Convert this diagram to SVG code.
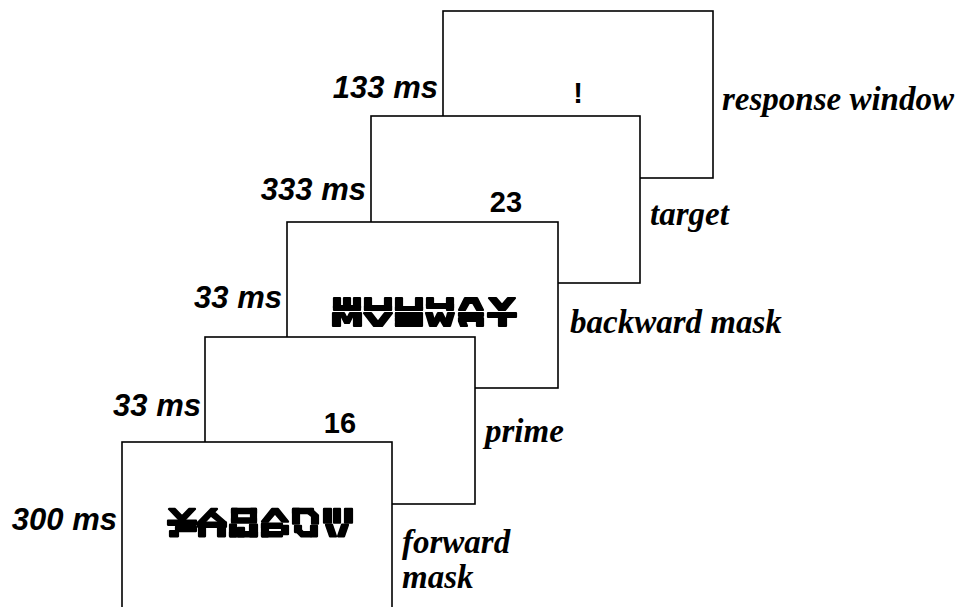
<svg xmlns="http://www.w3.org/2000/svg" width="969" height="607" viewBox="0 0 969 607">
<style>
.frame{fill:#fff;stroke:#000;stroke-width:1.6}
.dur{font-family:"Liberation Sans",Arial,sans-serif;font-weight:bold;font-style:italic;font-size:31px;text-anchor:end;fill:#000}
.stim{font-family:"Liberation Sans",Arial,sans-serif;font-weight:bold;font-size:29px;text-anchor:middle;fill:#000}
.name{font-family:"Liberation Serif","Times New Roman",serif;font-weight:bold;font-style:italic;font-size:33px;fill:#000}
.mask{fill:#000;stroke:#000;stroke-width:2.2;stroke-linejoin:round}
</style>
<rect width="969" height="607" fill="#fff"/>
<g id="response-window">
<rect class="frame" x="443" y="11" width="270" height="167"/>
<text class="stim" x="578" y="103">!</text>
<text class="dur" x="438" y="98">133 ms</text>
<text class="name" x="722" y="110">response window</text>
</g>
<g id="target">
<rect class="frame" x="371" y="116" width="269" height="167"/>
<text class="stim" x="506" y="212">23</text>
<text class="dur" x="366" y="200">333 ms</text>
<text class="name" x="650" y="225">target</text>
</g>
<g id="backward-mask">
<rect class="frame" x="287" y="222" width="271" height="166"/>
<g class="mask" transform="translate(333,298)">
<rect x="1" y="0" width="6" height="10"/><rect x="11" y="0" width="6" height="10"/><rect x="21" y="0" width="6" height="10"/><rect x="1" y="8" width="26" height="4"/>
<rect x="0" y="15" width="7" height="13"/><rect x="21" y="15" width="7" height="13"/><path d="M7,15 L11,15 L14,21 L17,15 L21,15 L16,25 L12,25 Z"/>
<rect x="32" y="0" width="6" height="12"/><rect x="52" y="0" width="6" height="12"/><rect x="32" y="8" width="26" height="4"/>
<path d="M31,15 L38,15 L45,24 L52,15 L59,15 L49,28 L41,28 Z"/>
<rect x="63" y="0" width="6" height="12"/><rect x="83" y="0" width="6" height="12"/><rect x="63" y="9" width="26" height="3"/>
<rect x="63" y="15" width="6" height="13"/><rect x="63" y="15" width="22" height="4"/><rect x="63" y="20" width="22" height="3"/><rect x="63" y="25" width="24" height="3"/><rect x="84" y="15" width="5" height="13"/>
<rect x="94" y="0" width="6" height="8"/><rect x="114" y="0" width="6" height="12"/><rect x="94" y="6" width="26" height="4"/>
<path d="M93,15 L99,15 L101,23 L105,15 L109,15 L113,23 L115,15 L121,15 L117,28 L111,28 L107,21 L103,28 L97,28 Z"/>
<path d="M132,0 L144,0 L150,12 L144,12 L140,5 L136,5 L132,12 L126,12 Z"/>
<rect x="126" y="15" width="24" height="3"/><rect x="126" y="20" width="24" height="3"/><path d="M126,23 L132,23 L134,28 L128,28 Z"/><rect x="144" y="23" width="6" height="5"/>
<path d="M156,0 L163,0 L169,7 L175,0 L182,0 L172,12 L166,12 Z"/>
<rect x="155" y="15" width="28" height="4"/><rect x="166" y="19" width="7" height="9"/>
</g>
<text class="dur" x="282" y="308">33 ms</text>
<text class="name" x="570" y="333">backward mask</text>
</g>
<g id="prime">
<rect class="frame" x="205" y="337" width="270" height="167"/>
<text class="stim" x="340" y="433">16</text>
<text class="dur" x="201" y="416">33 ms</text>
<text class="name" x="485" y="442">prime</text>
</g>
<g id="forward-mask">
<rect class="frame" x="122" y="442" width="270" height="200"/>
<g class="mask" transform="translate(168,509) scale(1,1.05)">
<path d="M1,0 L7,0 L14,7 L21,0 L27,0 L17,10 L11,10 Z"/><rect x="0" y="11" width="28" height="4"/><rect x="8" y="17" width="20" height="4"/><rect x="2" y="21" width="8" height="5"/>
<path d="M43,0 L49,0 L36,13 L30,13 Z"/><path d="M47,4 L58,13 L52,13 L44,7 Z"/><rect x="30" y="13" width="28" height="4"/><rect x="31" y="17" width="6" height="9"/><rect x="50" y="17" width="7" height="9"/>
<rect x="64" y="0" width="24" height="4"/><rect x="64" y="0" width="5" height="12"/><rect x="83" y="0" width="5" height="12"/><rect x="64" y="9" width="24" height="4"/>
<rect x="62" y="15" width="6" height="11"/><rect x="70" y="18" width="6" height="8"/><rect x="82" y="15" width="7" height="11"/><rect x="62" y="22" width="27" height="4"/>
<path d="M104,0 L110,0 L120,12 L114,12 L107,4 L100,12 L94,12 Z"/>
<rect x="94" y="14" width="6" height="12"/><rect x="94" y="14" width="20" height="4"/><rect x="94" y="22" width="20" height="4"/><rect x="114" y="16" width="6" height="8"/>
<rect x="125" y="0" width="6" height="14"/><rect x="125" y="0" width="20" height="4"/><path d="M143,0 L150,6 L150,14 L144,14 L144,7 L140,4 Z"/>
<rect x="127" y="16" width="6" height="6"/><rect x="143" y="16" width="6" height="10"/><path d="M127,20 L133,26 L143,26 L143,22 L135,22 L133,20 Z"/>
<rect x="156" y="0" width="7" height="13"/><rect x="166" y="0" width="6" height="13"/><rect x="177" y="0" width="7" height="13"/>
<path d="M158,15 L164,15 L168,26 L162,26 Z"/><path d="M174,15 L180,15 L176,26 L170,26 Z"/>
</g>
<text class="dur" x="117" y="530">300 ms</text>
<text class="name" x="402" y="553">forward</text>
<text class="name" x="402" y="588">mask</text>
</g>
</svg>
